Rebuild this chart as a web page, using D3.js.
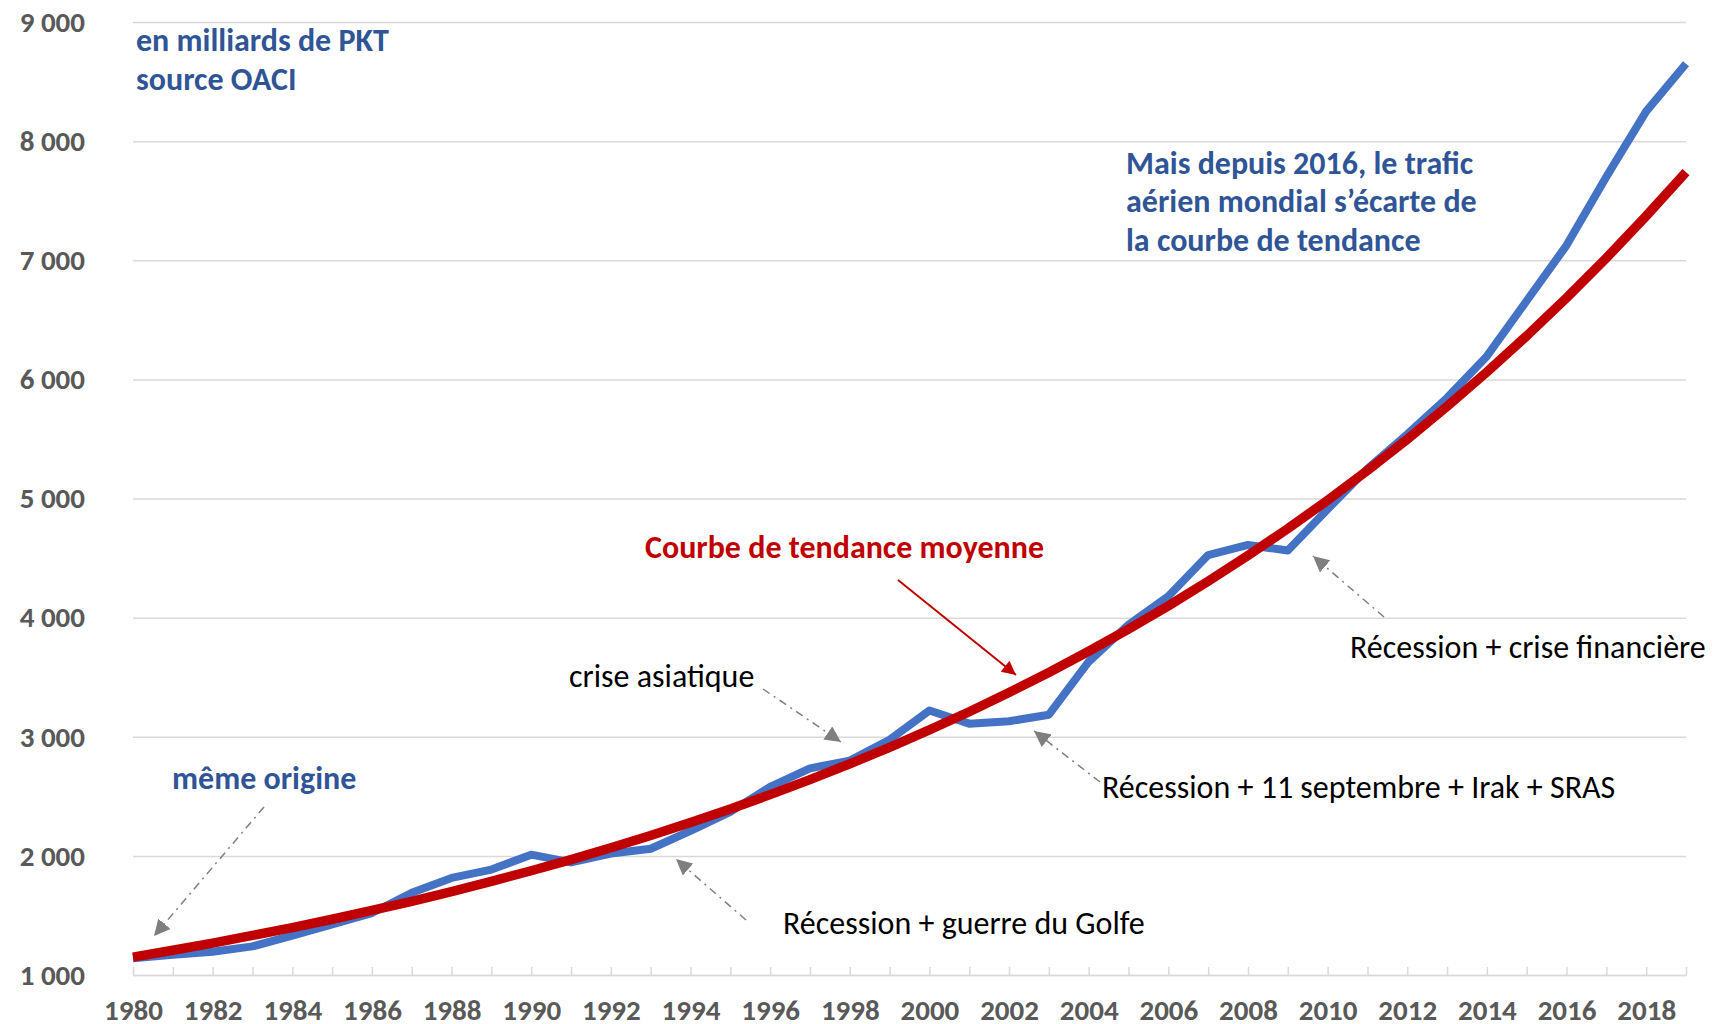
<!DOCTYPE html>
<html>
<head>
<meta charset="utf-8">
<script src="https://cdn.jsdelivr.net/npm/d3@7"></script>
<style>
  body { margin: 0; background: #fff; }
  svg { display: block; font-family: Carlito, Calibri, Lato, sans-serif; }
</style>
</head>
<body>
<div id="chart"></div>
<script>
// Years (one point per year)
const years = d3.range(1980, 2020);

// World air traffic, billions of PKT
const traffic = [1140, 1170, 1195, 1240, 1330, 1425, 1520, 1690, 1815, 1885,
                 2010, 1945, 2020, 2060, 2210, 2370, 2580, 2735, 2800, 2975,
                 3220, 3110, 3130, 3185, 3630, 3940, 4180, 4525, 4610, 4563,
                 4910, 5250, 5540, 5845, 6195, 6660, 7125, 7700, 8250, 8650];

// Average trend curve
const trend = [1150, 1208, 1268, 1332, 1398, 1468, 1542, 1619, 1700, 1786,
               1875, 1969, 2068, 2171, 2280, 2394, 2514, 2640, 2773, 2911,
               3057, 3210, 3371, 3540, 3718, 3904, 4099, 4305, 4521, 4747,
               4985, 5235, 5497, 5773, 6062, 6365, 6684, 7019, 7371, 7740];

const yTicks = [1000, 2000, 3000, 4000, 5000, 6000, 7000, 8000, 9000];
const xTickLabels = d3.range(1980, 2020, 2);

const W = 1727, H = 1024;
const margin = { top: 22, right: 41, bottom: 49, left: 133 },
      width = W - margin.left - margin.right,
      height = H - margin.top - margin.bottom;

const svg = d3.select("#chart")
  .append("svg")
    .attr("width", W)
    .attr("height", H);

const g = svg.append("g")
  .attr("transform", `translate(${margin.left},${margin.top})`);

const x = d3.scalePoint().domain(years).range([0, width]);
const y = d3.scaleLinear().domain([1000, 9000]).range([height, 0]);

// Gridlines + y labels
const yAxis = g.append("g")
  .call(d3.axisLeft(y).tickValues(yTicks).tickSize(-width)
    .tickFormat(d => d3.format(",")(d).replace(",", " ")))
  .attr("font-family", null)
  .attr("font-size", null);
yAxis.select(".domain").remove();
yAxis.selectAll(".tick line").attr("stroke", "#d9d9d9").attr("stroke-width", 1.5);
yAxis.selectAll(".tick text")
  .attr("x", -48)
  .attr("fill", "#595959")
  .style("font-size", "29px")
  .style("font-weight", "bold");

// X axis: inside ticks on every year, labels every two years
const xAxis = g.append("g")
  .attr("transform", `translate(0,${height})`)
  .call(d3.axisBottom(x).tickSize(-8).tickSizeOuter(0)
    .tickFormat(d => xTickLabels.includes(d) ? d : ""))
  .attr("font-family", null)
  .attr("font-size", null);
xAxis.select(".domain").attr("stroke", "#d9d9d9").attr("stroke-width", 1.5);
xAxis.selectAll(".tick line").attr("stroke", "#d9d9d9").attr("stroke-width", 1.5);
xAxis.selectAll(".tick text")
  .attr("y", 45)
  .attr("dy", 0)
  .attr("fill", "#595959")
  .style("font-size", "29px")
  .style("font-weight", "bold");

// Lines
const line = d3.line().x((d, i) => x(years[i])).y(d => y(d));

g.append("path")
  .datum(traffic)
  .attr("fill", "none")
  .attr("stroke", "#4472c4")
  .attr("stroke-width", 8)
  .attr("stroke-linejoin", "round")
  .attr("d", line);

g.append("path")
  .datum(trend)
  .attr("fill", "none")
  .attr("stroke", "#c00000")
  .attr("stroke-width", 9.5)
  .attr("stroke-linejoin", "round")
  .attr("d", line);

// Arrow markers
const defs = svg.append("defs");
defs.append("marker")
  .attr("id", "grayHead")
  .attr("viewBox", "0 0 10 10")
  .attr("refX", 10).attr("refY", 5)
  .attr("markerUnits", "userSpaceOnUse")
  .attr("markerWidth", 16).attr("markerHeight", 16)
  .attr("orient", "auto")
  .append("path").attr("d", "M0,0L10,5L0,10z").attr("fill", "#7f7f7f");
defs.append("marker")
  .attr("id", "redHead")
  .attr("viewBox", "0 0 10 10")
  .attr("refX", 10).attr("refY", 5)
  .attr("markerUnits", "userSpaceOnUse")
  .attr("markerWidth", 16).attr("markerHeight", 14)
  .attr("orient", "auto")
  .append("path").attr("d", "M0,0L10,5L0,10z").attr("fill", "#c00000");

const grayArrows = [
  [264, 807, 154, 936],
  [746, 920, 676, 859],
  [763, 689, 841, 742],
  [1100, 782, 1034, 731],
  [1384, 617, 1313, 556]
];
svg.selectAll(".garrow")
  .data(grayArrows)
  .join("line")
    .attr("class", "garrow")
    .attr("x1", d => d[0]).attr("y1", d => d[1])
    .attr("x2", d => d[2]).attr("y2", d => d[3])
    .attr("stroke", "#7f7f7f")
    .attr("stroke-width", 1.5)
    .attr("stroke-dasharray", "8,5,2,5")
    .attr("marker-end", "url(#grayHead)");

svg.append("line")
  .attr("x1", 898).attr("y1", 580)
  .attr("x2", 1016).attr("y2", 675)
  .attr("stroke", "#c00000")
  .attr("stroke-width", 2)
  .attr("marker-end", "url(#redHead)");

// Annotations
const notes = [
  { t: "en milliards de PKT", x: 136, y: 51, c: "#2f5597", b: true },
  { t: "source OACI", x: 136, y: 90, c: "#2f5597", b: true },
  { t: "Mais depuis 2016, le trafic", x: 1126, y: 174, c: "#2f5597", b: true },
  { t: "aérien mondial s’écarte de", x: 1126, y: 212, c: "#2f5597", b: true },
  { t: "la courbe de tendance", x: 1126, y: 251, c: "#2f5597", b: true },
  { t: "Courbe de tendance moyenne", x: 645, y: 558, c: "#c00000", b: true },
  { t: "crise asiatique", x: 569, y: 687, c: "#000", b: false },
  { t: "Récession + 11 septembre + Irak + SRAS", x: 1102, y: 798, c: "#000", b: false },
  { t: "Récession + guerre du Golfe", x: 783, y: 934, c: "#000", b: false },
  { t: "même origine", x: 172, y: 789, c: "#2f5597", b: true },
  { t: "Récession + crise financière", x: 1350, y: 658, c: "#000", b: false }
];
svg.selectAll(".note")
  .data(notes)
  .join("text")
    .attr("class", "note")
    .attr("x", d => d.x)
    .attr("y", d => d.y)
    .attr("fill", d => d.c)
    .style("font-size", "32px")
    .style("font-weight", d => d.b ? "bold" : "normal")
    .text(d => d.t);
</script>
</body>
</html>
